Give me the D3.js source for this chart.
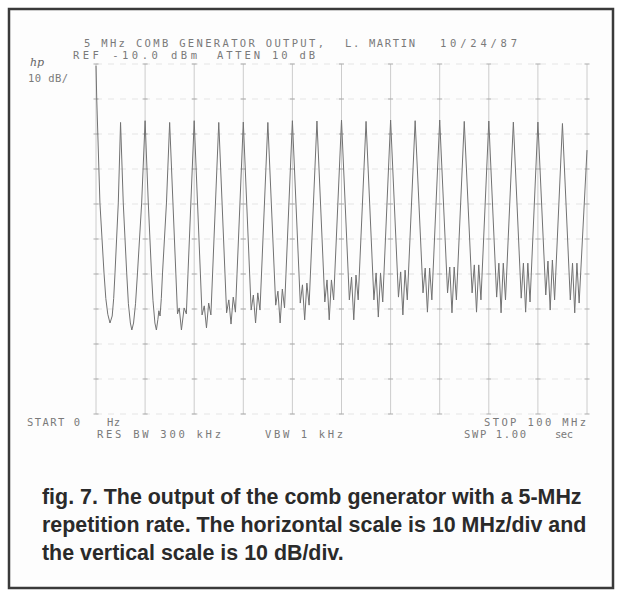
<!DOCTYPE html>
<html>
<head>
<meta charset="utf-8">
<script src="https://cdn.jsdelivr.net/npm/d3@7"></script>
<style>
  body { margin: 0; background: #fff; }
  svg { display: block; }
</style>
</head>
<body>
<div id="chart"></div>
<script>
// comb generator trace, [MHz, dBm]
var traceLow = [
    [0, -10.5], [0.15, -20], [0.8, -49.7], [1.63, -69.7], [2.0, -77], [2.4, -81.5], [2.85, -84.0], [3.3, -82], [3.6, -77], [3.87, -69.7], [4.54, -49.7], [5, -26.7],
    [5.55, -49.7], [6.25, -69.7], [6.6, -78.5], [7.0, -84], [7.3, -86], [7.65, -84], [8.05, -78.5], [8.45, -69.7], [9.3, -49.7], [10, -26.2],
    [10.65, -49.7], [11.3, -69.7], [11.6, -77.5], [12.0, -84], [12.3, -86], [12.6, -83], [12.8, -80.5], [13.05, -82], [13.3, -77], [13.55, -69.7], [14.35, -49.7], [15, -26.7]
];
var traceHigh = [
    [16.6, -81.4], [16.95, -79.7], [17.4, -86.0], [17.95, -79.7], [18.4, -81.4], [20, -26.2],
    [21.6, -81.7], [22.05, -79.1], [22.5, -85.4], [22.95, -78.3], [23.4, -81.7], [25, -26.7],
    [26.6, -81.1], [27.05, -77.4], [27.5, -84.3], [27.95, -76.6], [28.4, -80.9], [30, -26.6],
    [31.6, -80.3], [32.05, -76.0], [32.5, -84.0], [32.95, -75.4], [33.4, -80.3], [35, -26.7],
    [36.6, -78.9], [37.05, -74.9], [37.5, -84.0], [37.95, -74.3], [38.4, -79.7], [40, -26.2],
    [41.6, -78.3], [42.05, -73.1], [42.5, -83.1], [42.95, -72.6], [43.4, -78.9], [45, -26.3],
    [46.6, -78.0], [47.05, -71.7], [47.5, -83.1], [47.95, -71.7], [48.4, -77.4], [50, -26.0],
    [51.6, -77.4], [52.05, -70.9], [52.5, -83.1], [52.95, -70.3], [53.4, -77.4], [55, -26.4],
    [56.6, -77.4], [57.05, -69.7], [57.5, -82.3], [57.95, -69.7], [58.4, -78.0], [60, -26.0],
    [61.6, -76.6], [62.05, -69.4], [62.5, -81.7], [62.95, -68.9], [63.4, -77.4], [65, -26.2],
    [66.6, -75.4], [67.05, -68.3], [67.5, -80.9], [67.95, -68.3], [68.4, -77.4], [70, -26.0],
    [71.6, -75.4], [72.05, -68.0], [72.5, -81.1], [72.95, -68.0], [73.4, -77.4], [75, -26.4],
    [76.6, -75.4], [77.05, -67.4], [77.5, -80.9], [77.95, -67.4], [78.4, -77.4], [80, -26.3],
    [81.6, -76.6], [82.05, -66.9], [82.5, -81.1], [82.95, -66.9], [83.4, -77.4], [85, -26.6],
    [86.6, -76.9], [87.05, -66.9], [87.5, -80.9], [87.95, -66.9], [88.4, -78.0], [90, -26.6],
    [91.6, -76.0], [92.05, -66.3], [92.5, -80.3], [92.95, -66.0], [93.4, -77.4], [95, -27.0],
    [96.6, -77.4], [97.05, -66.9], [97.5, -81.1], [97.95, -66.9], [98.4, -78.3], [100, -34.6]
];

var freqSpan = [0, 100];      // MHz
var levelSpan = [-10, -110];  // dBm, ref level at top, 10 dB/div

// analyzer annotation words, kept in the groups the plotter wrote them
var headerText = ["5 MHz COMB GENERATOR OUTPUT,", "L. MARTIN", "10/24/87", "REF -10.0 dBm", "ATTEN 10 dB", "10 dB/"];
var footerText = ["START 0", "Hz", "STOP 100 MHz", "RES BW 300 kHz", "VBW 1 kHz", "SWP 1.00", "sec"];
var captionLines = [
    "fig. 7. The output of the comb generator with a 5-MHz",
    "repetition rate. The horizontal scale is 10 MHz/div and",
    "the vertical scale is 10 dB/div."
];

var svgWidth = 623;
var svgHeight = 595;

var svg = d3.select("#chart")
    .append("svg")
    .attr("width", svgWidth)
    .attr("height", svgHeight);

// outer frame of the figure
svg.append("rect")
    .attr("x", 9).attr("y", 9)
    .attr("width", 604).attr("height", 579)
    .attr("fill", "#fdfdfd")
    .attr("stroke", "#3a3a3a")
    .attr("stroke-width", 2.5);

var x = d3.scaleLinear().domain(freqSpan).range([96, 587]);
var y = d3.scaleLinear().domain(levelSpan).range([64, 414]);

var xTicks = x.ticks(10);
var yTicks = y.ticks(10);

var grid = svg.append("g");

// horizontal graticule, faint dashes
grid.selectAll(".hline")
    .data(yTicks)
    .enter()
    .append("line")
    .attr("x1", x(0)).attr("x2", x(100))
    .attr("y1", d => y(d)).attr("y2", d => y(d))
    .attr("stroke", "#dedede")
    .attr("stroke-width", 0.8)
    .attr("stroke-dasharray", "6,6");

// vertical graticule
grid.selectAll(".vline")
    .data(xTicks)
    .enter()
    .append("line")
    .attr("x1", d => x(d)).attr("x2", d => x(d))
    .attr("y1", y(-10)).attr("y2", y(-110))
    .attr("stroke", "#c6c6c6")
    .attr("stroke-width", 0.9);

// little tick marks where graticule lines cross
var crossings = [];
xTicks.forEach(function(f) {
    yTicks.forEach(function(l) { crossings.push([f, l]); });
});
grid.selectAll(".tick")
    .data(crossings)
    .enter()
    .append("line")
    .attr("x1", d => x(d[0]) - 2.5).attr("x2", d => x(d[0]) + 2.5)
    .attr("y1", d => y(d[1])).attr("y2", d => y(d[1]))
    .attr("stroke", "#ababab")
    .attr("stroke-width", 1);

// the trace
var line = d3.line()
    .x(d => x(d[0]))
    .y(d => y(d[1]));

svg.append("path")
    .datum(traceLow.concat(traceHigh))
    .attr("d", line)
    .attr("fill", "none")
    .attr("stroke", "#727272")
    .attr("stroke-width", 1)
    .attr("stroke-linejoin", "round");

// analyzer annotations
var instr = svg.append("g")
    .attr("font-family", "DejaVu Sans Mono, monospace")
    .attr("font-size", 10.5)
    .attr("fill", "#7a7a7a");

// [x, baseline, width] for each word group
var headerPos = [[84, 47, 240], [345, 47, 70], [440, 47, 77], [73, 59, 124], [217, 59, 98], [28, 82, 40]];
instr.selectAll(".hdr")
    .data(headerText)
    .enter()
    .append("text")
    .attr("x", (d, i) => headerPos[i][0])
    .attr("y", (d, i) => headerPos[i][1])
    .attr("textLength", (d, i) => headerPos[i][2])
    .attr("lengthAdjust", "spacing")
    .text(d => d);

var footerPos = [[27, 426, 53], [107, 426, 13], [484, 426, 102], [97, 438, 124], [265, 438, 78], [464, 438, 62], [555, 438, 18]];
instr.selectAll(".ftr")
    .data(footerText)
    .enter()
    .append("text")
    .attr("x", (d, i) => footerPos[i][0])
    .attr("y", (d, i) => footerPos[i][1])
    .attr("textLength", (d, i) => footerPos[i][2])
    .attr("lengthAdjust", "spacing")
    .text(d => d);

// hp logo
svg.append("text")
    .attr("x", 30).attr("y", 66)
    .attr("font-family", "DejaVu Serif, serif")
    .attr("font-style", "italic")
    .attr("font-size", 11)
    .attr("fill", "#666")
    .text("hp");

// figure caption
var caption = svg.append("g")
    .attr("font-family", "Liberation Sans, Arial, sans-serif")
    .attr("font-weight", "bold")
    .attr("fill", "#2a2a2a");

var capText = caption.selectAll("text")
    .data(captionLines)
    .enter()
    .append("text")
    .attr("x", 42)
    .attr("y", (d, i) => 504 + i * 28)
    .attr("font-size", 19)
    .text(d => d);

// fit the first line to its width on the page
var w0 = capText.nodes()[0].getComputedTextLength();
capText.attr("font-size", 19 * 540 / w0);
</script>
</body>
</html>
